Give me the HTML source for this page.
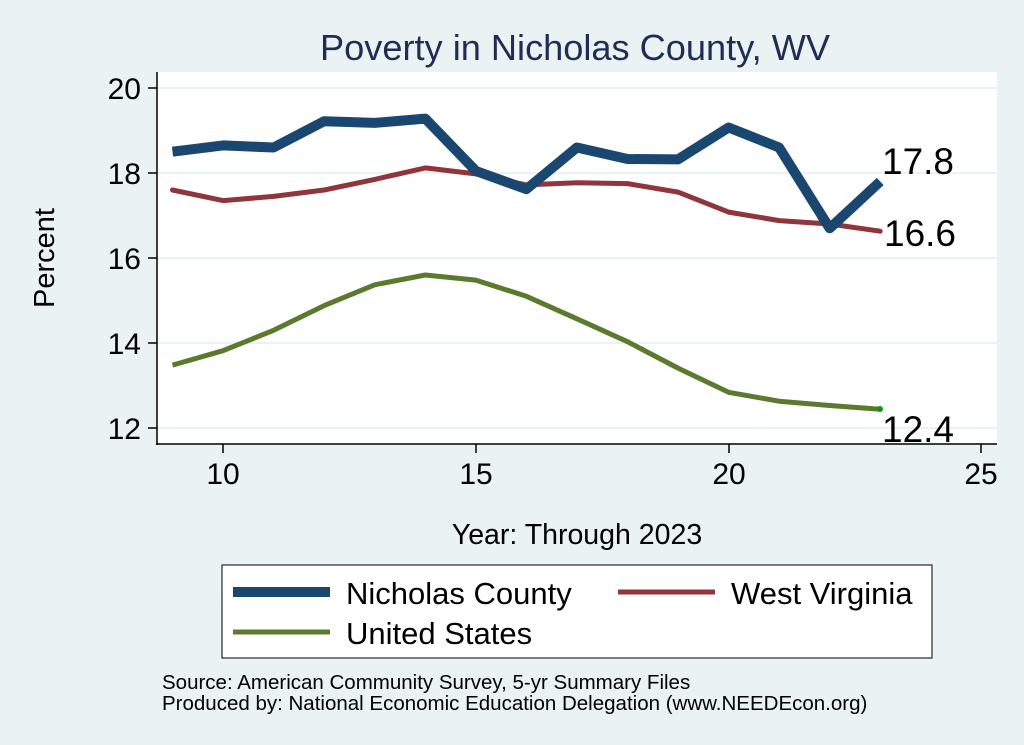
<!DOCTYPE html>
<html><head><meta charset="utf-8"><style>
html,body{margin:0;padding:0;background:#eaf2f3;}
svg{display:block;font-family:"Liberation Sans",Arial,sans-serif;}
</style></head><body>
<svg width="1024" height="745" viewBox="0 0 1024 745" xmlns="http://www.w3.org/2000/svg">
<rect width="1024" height="745" fill="#eaf2f3"/>
<text x="575" y="60" text-anchor="middle" font-size="36" fill="#1f2d55" textLength="510" lengthAdjust="spacingAndGlyphs">Poverty in Nicholas County, WV</text>
<rect x="157" y="72" width="840" height="372" fill="#fff"/>
<g stroke="#eaf2f3" stroke-width="2">
<line x1="157" x2="997" y1="88" y2="88"/><line x1="157" x2="997" y1="173" y2="173"/>
<line x1="157" x2="997" y1="258" y2="258"/><line x1="157" x2="997" y1="343" y2="343"/>
<line x1="157" x2="997" y1="428" y2="428"/>
</g>
<g stroke="#000" stroke-width="1.5" fill="none">
<line x1="157" y1="72" x2="157" y2="445"/><line x1="156" y1="444" x2="997" y2="444"/>
<line x1="148" x2="157" y1="88" y2="88"/><line x1="148" x2="157" y1="173" y2="173"/>
<line x1="148" x2="157" y1="258" y2="258"/><line x1="148" x2="157" y1="343" y2="343"/>
<line x1="148" x2="157" y1="428" y2="428"/>
<line x1="223" x2="223" y1="444" y2="453"/><line x1="476" x2="476" y1="444" y2="453"/>
<line x1="729" x2="729" y1="444" y2="453"/><line x1="981" x2="981" y1="444" y2="453"/>
</g>
<g font-size="30" fill="#000" text-anchor="end">
<text x="141" y="99">20</text><text x="141" y="184">18</text><text x="141" y="269">16</text>
<text x="141" y="354">14</text><text x="141" y="439">12</text>
</g>
<g font-size="30" fill="#000" text-anchor="middle">
<text x="223" y="484">10</text><text x="476" y="484">15</text><text x="729" y="484">20</text><text x="981" y="484">25</text>
</g>
<text transform="translate(54,258) rotate(-90)" text-anchor="middle" font-size="29">Percent</text>
<text x="577" y="544" text-anchor="middle" font-size="28.5">Year: Through 2023</text>
<polyline fill="none" stroke="#5a7a2e" stroke-width="5" stroke-linejoin="round" points="172.5,365.1 223,350.7 273.6,330.3 324.2,305.6 374.7,284.8 425.3,275 475.8,280.1 526.4,296.3 576.9,318.8 627.5,341.7 678,368.1 728.6,392.3 779.1,401.2 829.7,405.5 880.2,409.3"/>
<circle cx="880" cy="409" r="3" fill="#0a9a0a"/>
<polyline fill="none" stroke="#90353b" stroke-width="5" stroke-linejoin="round" stroke-linecap="round" points="172.5,190 223,200.6 273.6,196.4 324.2,190 374.7,179.4 425.3,167.9 475.8,173.9 526.4,184.9 576.9,182.8 627.5,183.6 678,192.1 728.6,212.1 779.1,220.6 829.7,224 880.2,231.2"/>
<polyline fill="none" stroke="#1a476f" stroke-width="10" stroke-linejoin="round" points="172.5,151.7 223,145.4 273.6,147.5 324.2,121.2 374.7,122.9 425.3,118.6 475.8,170.9 526.4,189.2 576.9,147.5 627.5,159 678,159.4 728.6,127.5 779.1,147.5 829.7,228.3 880.2,181.5"/>
<g font-size="37" fill="#000">
<text x="882" y="174">17.8</text><text x="884" y="246">16.6</text><text x="882" y="442">12.4</text>
</g>
<rect x="222" y="565" width="710" height="93" fill="#fff" stroke="#000" stroke-width="1"/>
<line x1="233" x2="330" y1="592" y2="592" stroke="#1a476f" stroke-width="10"/>
<line x1="618" x2="715" y1="592" y2="592" stroke="#90353b" stroke-width="5"/>
<line x1="233" x2="330" y1="632" y2="632" stroke="#5a7a2e" stroke-width="5"/>
<g font-size="31" fill="#000">
<text x="346" y="604">Nicholas County</text><text x="731" y="604">West Virginia</text><text x="346" y="644">United States</text>
</g>
<g font-size="20.5" fill="#000">
<text x="162" y="689">Source: American Community Survey, 5-yr Summary Files</text>
<text x="162" y="710">Produced by: National Economic Education Delegation (www.NEEDEcon.org)</text>
</g>
</svg>
</body></html>
